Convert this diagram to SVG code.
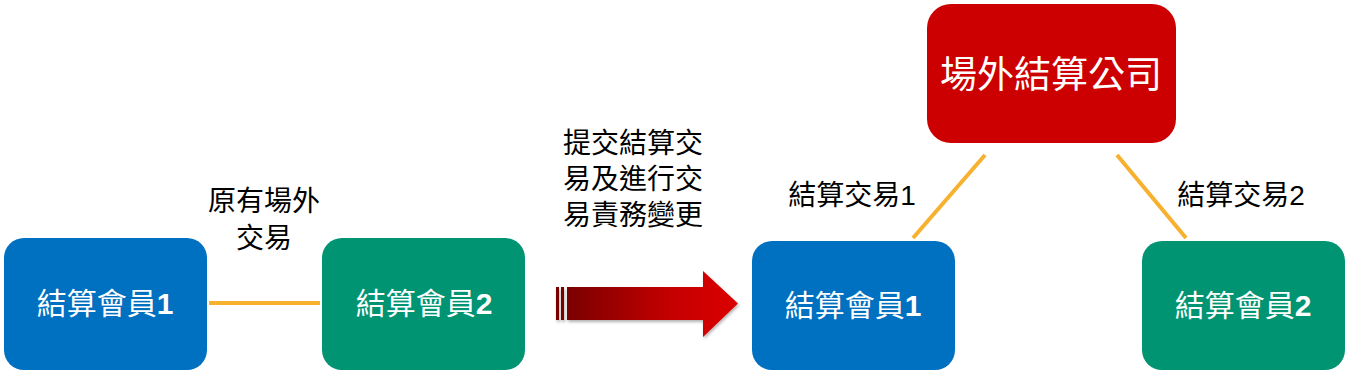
<svg xmlns="http://www.w3.org/2000/svg" width="1349" height="377" viewBox="0 0 1349 377">
<style>
.lbl{font-family:"Liberation Sans","Noto Sans CJK TC",sans-serif;font-size:28px;fill:#000;text-anchor:middle}
.nt{font-family:"Liberation Sans","Noto Sans CJK TC",sans-serif;font-size:30px;fill:#fff;text-anchor:middle}
.b{font-weight:bold}
.conn{stroke:#F7B12F;stroke-width:4;fill:none}
</style>
<defs>
<linearGradient id="ag" x1="0" y1="0" x2="1" y2="0">
<stop offset="0" stop-color="#7A0000"/>
<stop offset="0.6" stop-color="#C40000"/>
<stop offset="1" stop-color="#DA0000"/>
</linearGradient>
<filter id="sh" x="-10%" y="-10%" width="130%" height="130%">
<feDropShadow dx="1" dy="2" stdDeviation="1.5" flood-color="#000" flood-opacity="0.3"/>
</filter>
</defs>
<g id="connectors">
<line class="conn" x1="209" y1="303" x2="320" y2="303"/>
<line class="conn" x1="985" y1="155" x2="913" y2="238"/>
<line class="conn" x1="1117" y1="155" x2="1186" y2="238"/>
</g>
<g id="member1-left">
<rect x="4" y="238" width="203" height="132" rx="20" fill="#0070C0"/>
<text class="nt" x="105" y="314">結算會員<tspan class="b">1</tspan></text>
</g>
<g id="member2-left">
<rect x="322" y="238" width="203" height="132" rx="20" fill="#009473"/>
<text class="nt" x="424" y="314">結算會員<tspan class="b">2</tspan></text>
</g>
<g id="label-original">
<text class="lbl" x="264" y="211">原有場外</text>
<text class="lbl" x="264" y="248">交易</text>
</g>
<g id="label-submit">
<text class="lbl" x="633" y="153">提交結算交</text>
<text class="lbl" x="633" y="189">易及進行交</text>
<text class="lbl" x="633" y="225">易責務變更</text>
</g>
<g id="arrow" filter="url(#sh)">
<rect x="556" y="287" width="3" height="33" fill="#7A0000"/>
<rect x="561" y="287" width="3" height="33" fill="#7A0000"/>
<path d="M567,287 H703 V271 L738,303.5 L703,337 V320 H567 Z" fill="url(#ag)"/>
</g>
<g id="clearing-house">
<rect x="927" y="4" width="249" height="139" rx="24" fill="#CC0000"/>
<text class="nt" x="1051" y="88" style="font-size:37px">場外結算公司</text>
</g>
<g id="label-trade1">
<text class="lbl" x="852" y="205">結算交易1</text>
</g>
<g id="label-trade2">
<text class="lbl" x="1241" y="205">結算交易2</text>
</g>
<g id="member1-right">
<rect x="752" y="241" width="203" height="129" rx="20" fill="#0070C0"/>
<text class="nt" x="853" y="316">結算會員<tspan class="b">1</tspan></text>
</g>
<g id="member2-right">
<rect x="1142" y="241" width="203" height="129" rx="20" fill="#009473"/>
<text class="nt" x="1243" y="316">結算會員<tspan class="b">2</tspan></text>
</g>
</svg>
